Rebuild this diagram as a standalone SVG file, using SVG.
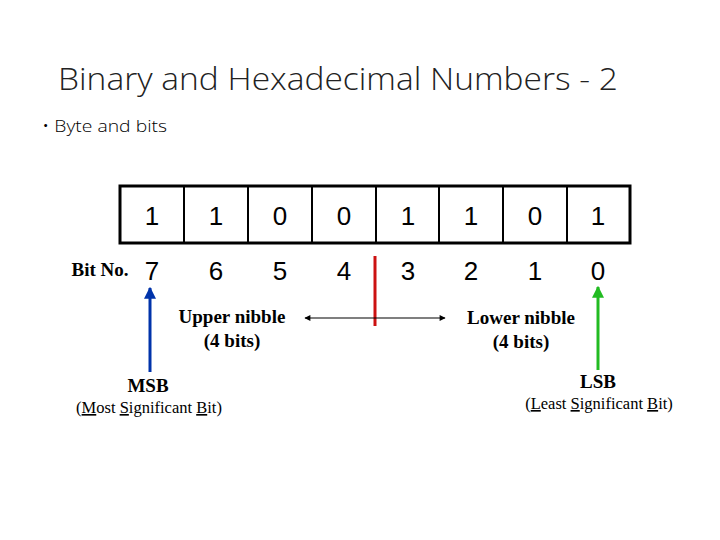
<svg xmlns="http://www.w3.org/2000/svg" width="720" height="540" viewBox="0 0 720 540">
<style>
.c{fill:#fff;stroke:#000;stroke-width:3}
.d{font-family:"Liberation Sans",Arial,sans-serif;font-size:26px;text-anchor:middle}
.s{font-family:"Liberation Serif","Times New Roman",serif;font-size:19px;font-weight:bold;text-anchor:middle}
.p{font-family:"Liberation Serif","Times New Roman",serif;font-size:16.5px;text-anchor:middle}
.t{font-family:"Open Sans","Noto Sans",sans-serif;font-weight:300}
</style>
<defs>
<marker id="ab" viewBox="0 0 10 10" refX="9" refY="5" markerWidth="4" markerHeight="4" orient="auto"><path d="M0,0L10,5L0,10z" fill="#0033aa"/></marker>
<marker id="ag" viewBox="0 0 10 10" refX="9" refY="5" markerWidth="4" markerHeight="4" orient="auto"><path d="M0,0L10,5L0,10z" fill="#22bb22"/></marker>
<marker id="ak" viewBox="0 0 10 10" refX="9" refY="5" markerWidth="6" markerHeight="5" orient="auto"><path d="M0,0L10,5L0,10z" fill="#000"/></marker>
</defs>
<rect width="720" height="540" fill="#fff"/>
<text x="58" y="90" class="t" font-size="31" fill="#222" textLength="560" lengthAdjust="spacingAndGlyphs">Binary and Hexadecimal Numbers - 2</text>
<text x="42" y="132" class="t" font-size="17" textLength="125" lengthAdjust="spacingAndGlyphs">• Byte and bits</text>
<g id="byte">
<rect class="c" x="120" y="186" width="510" height="57"/>
<path d="M184,186V243M248,186V243M312,186V243M376,186V243M439,186V243M503,186V243M567,186V243" stroke="#000" stroke-width="2"/>
<text class="d" x="152" y="225">1</text><text class="d" x="216" y="225">1</text><text class="d" x="280" y="225">0</text><text class="d" x="344" y="225">0</text><text class="d" x="408" y="225">1</text><text class="d" x="471" y="225">1</text><text class="d" x="535" y="225">0</text><text class="d" x="598" y="225">1</text>
</g>
<g id="bitno">
<text x="100" y="276" class="s" font-size="16.5">Bit No.</text>
<text class="d" x="152" y="280">7</text><text class="d" x="216" y="280">6</text><text class="d" x="280" y="280">5</text><text class="d" x="344" y="280">4</text><text class="d" x="408" y="280">3</text><text class="d" x="471" y="280">2</text><text class="d" x="535" y="280">1</text><text class="d" x="598" y="280">0</text>
</g>
<g id="connectors">
<line x1="375" y1="256" x2="375" y2="326" stroke="#cc1111" stroke-width="3"/>
<line x1="375" y1="318" x2="305" y2="318" stroke="#000" stroke-width="1.2" marker-end="url(#ak)"/>
<line x1="375" y1="318" x2="445" y2="318" stroke="#000" stroke-width="1.2" marker-end="url(#ak)"/>
<line x1="150" y1="372" x2="150" y2="288" stroke="#0033aa" stroke-width="3" marker-end="url(#ab)"/>
<line x1="598" y1="370" x2="598" y2="287" stroke="#22bb22" stroke-width="3" marker-end="url(#ag)"/>
</g>
<g id="upper"><text class="s" x="232" y="323">Upper nibble</text><text class="s" x="232" y="347">(4 bits)</text></g>
<g id="lower"><text class="s" x="521" y="324">Lower nibble</text><text class="s" x="521" y="348">(4 bits)</text></g>
<g id="msb"><text class="s" x="148" y="392">MSB</text><text class="p" x="149" y="413">(<tspan text-decoration="underline">M</tspan>ost <tspan text-decoration="underline">S</tspan>ignificant <tspan text-decoration="underline">B</tspan>it)</text></g>
<g id="lsb"><text class="s" x="598" y="388">LSB</text><text class="p" x="599" y="409">(<tspan text-decoration="underline">L</tspan>east <tspan text-decoration="underline">S</tspan>ignificant <tspan text-decoration="underline">B</tspan>it)</text></g>
</svg>
